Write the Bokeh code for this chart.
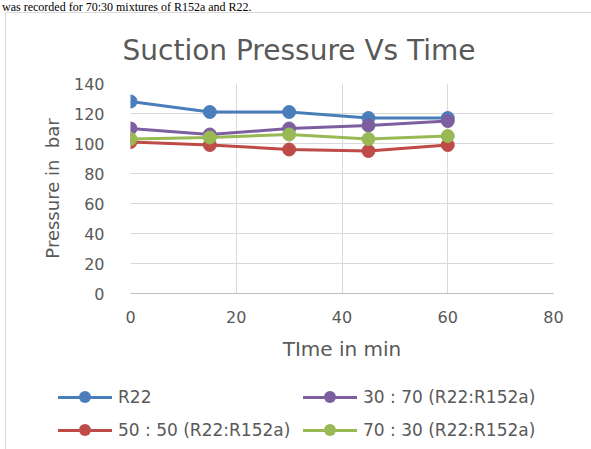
from bokeh.plotting import figure
from bokeh.models import FixedTicker, Range1d, Title, Div
from bokeh.layouts import column
from bokeh.embed import file_html
from bokeh.resources import INLINE

time_min = [0, 15, 30, 45, 60]
r22 = [128, 121, 121, 117, 117]
mix_30_70 = [110, 106, 110, 112, 115]
mix_50_50 = [101, 99, 96, 95, 99]
mix_70_30 = [103, 104, 106, 103, 105]

series_names = ["R22", "30 : 70 (R22:R152a)", "50 : 50 (R22:R152a)", "70 : 30 (R22:R152a)"]
series_values = [r22, mix_30_70, mix_50_50, mix_70_30]
series_colors = ["#4A7EBB", "#7D5FA0", "#BE4B48", "#98B954"]

x_ticks = [0, 20, 40, 60, 80]
y_ticks = [0, 20, 40, 60, 80, 100, 120, 140]

FONT = "DejaVu Sans"
TXT = "#595959"
BORDER = "1px solid #D9D9D9"

top_text = Div(text="was recorded for 70:30 mixtures of R152a and R22.", width=591, height=12, margin=0,
               styles={"font-family": "Liberation Serif", "font-size": "12px", "line-height": "14px",
                       "color": "black", "white-space": "nowrap", "padding-left": "2px"})

p = figure(width=586, height=358, output_backend="svg", toolbar_location=None,
           x_range=Range1d(0, 80), y_range=Range1d(0, 140),
           min_border_left=124, min_border_right=39, min_border_top=70, min_border_bottom=78,
           margin=(0, 0, 0, 5), styles={"border-left": BORDER, "border-top": BORDER})
p.outline_line_color = None
p.background_fill_color = "white"
p.border_fill_color = "white"

p.title = Title(text="Suction Pressure Vs Time", align="left", offset=-8, standoff=34,
                text_font=FONT, text_font_size="28px", text_font_style="normal", text_color=TXT)

for ax in (p.xaxis[0], p.yaxis[0]):
    ax.major_tick_line_color = None
    ax.minor_tick_line_color = None
    ax.major_label_text_font = FONT
    ax.major_label_text_font_size = "16px"
    ax.major_label_text_color = TXT
    ax.axis_label_text_font = FONT
    ax.axis_label_text_font_style = "normal"
    ax.axis_label_text_color = TXT

p.xaxis.ticker = FixedTicker(ticks=x_ticks)
p.yaxis.ticker = FixedTicker(ticks=y_ticks)
p.xaxis.axis_line_color = "#BFBFBF"
p.yaxis.axis_line_color = None
p.xaxis.axis_label = "TIme in min"
p.yaxis.axis_label = "Pressure in\u00a0 bar"
p.xaxis.axis_label_text_font_size = "20px"
p.yaxis.axis_label_text_font_size = "18px"
p.xaxis.major_label_standoff = 11
p.xaxis.axis_label_standoff = 11
p.yaxis.major_label_standoff = 20
p.yaxis.axis_label_standoff = 8

p.xgrid.ticker = FixedTicker(ticks=x_ticks)
p.ygrid.ticker = FixedTicker(ticks=y_ticks)
p.xgrid.grid_line_color = "#D9D9D9"
p.ygrid.grid_line_color = "#D9D9D9"

for name, vals, col in zip(series_names, series_values, series_colors):
    p.line(time_min, vals, line_color=col, line_width=3, legend_label=name)
    p.scatter(time_min, vals, size=13, fill_color=col, line_color=col, legend_label=name)
p.legend.visible = False

# Legend drawn as HTML below the chart (two columns, row-major like the original)
def legend_entry(name, col, left, top):
    return (
        f'<div style="position:absolute;left:{left}px;top:{top}px;height:20px;display:flex;'
        f'align-items:center;white-space:nowrap;">'
        f'<span style="position:relative;display:inline-block;width:54px;height:3px;background:{col};">'
        f'<span style="position:absolute;left:21px;top:-4.5px;width:12px;height:12px;'
        f'border-radius:50%;background:{col};"></span></span>'
        f'<span style="margin-left:6px;font-family:\'{FONT}\';font-size:17px;color:{TXT};">{name}</span>'
        f'</div>'
    )

col_left = [52, 297]
row_top = [17, 50]
entries = []
for i, (name, col) in enumerate(zip(series_names, series_colors)):
    entries.append(legend_entry(name, col, col_left[i % 2], row_top[i // 2]))
legend_html = '<div style="position:relative;width:585px;height:79px;">' + "".join(entries) + '</div>'

legend_div = Div(text=legend_html, width=586, height=79, margin=(0, 0, 0, 5),
                 styles={"border-left": BORDER, "background": "white"})

layout = column(top_text, p, legend_div, width=591, height=449, margin=0, spacing=0)

open("out.html", "w").write(file_html(layout, INLINE))
